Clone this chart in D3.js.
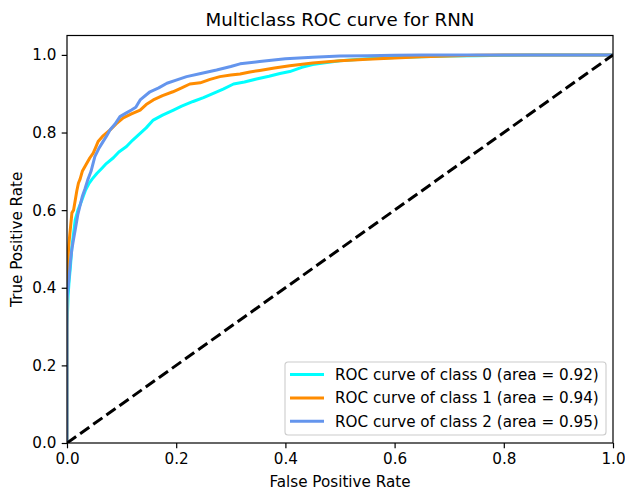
<!DOCTYPE html>
<html>
<head>
<meta charset="utf-8">
<script src="https://cdn.jsdelivr.net/npm/d3@7"></script>
<style>
  html, body { margin: 0; padding: 0; background: #fff; }
  svg { display: block; font-family: "DejaVu Sans", sans-serif; }
</style>
</head>
<body>
<svg id="chart" width="625" height="494"></svg>
<script>
// ROC curves (false positive rate vs. true positive rate) for each class
const class0Fpr = [0, 0, 0.002, 0.004, 0.006, 0.009, 0.012, 0.015, 0.02, 0.027, 0.034, 0.04, 0.046, 0.055, 0.064, 0.072, 0.085, 0.095, 0.109, 0.12, 0.134, 0.145, 0.158, 0.175, 0.195, 0.21, 0.231, 0.25, 0.268, 0.286, 0.305, 0.325, 0.347, 0.37, 0.39, 0.408, 0.43, 0.45, 0.469, 0.5, 0.55, 0.6, 0.65, 0.7, 0.75, 0.8, 0.85, 0.9, 1.0];
const class0Tpr = [0, 0.3, 0.38, 0.42, 0.45, 0.506, 0.54, 0.575, 0.6, 0.625, 0.652, 0.668, 0.68, 0.695, 0.708, 0.72, 0.735, 0.75, 0.764, 0.78, 0.798, 0.812, 0.832, 0.845, 0.858, 0.868, 0.88, 0.89, 0.901, 0.912, 0.925, 0.93, 0.938, 0.945, 0.952, 0.957, 0.968, 0.975, 0.979, 0.985, 0.99, 0.993, 0.995, 0.997, 0.998, 0.999, 1.0, 1.0, 1.0];

const class1Fpr = [0, 0, 0.001, 0.003, 0.006, 0.009, 0.012, 0.015, 0.018, 0.021, 0.024, 0.028, 0.036, 0.042, 0.048, 0.052, 0.057, 0.065, 0.079, 0.09, 0.103, 0.118, 0.134, 0.145, 0.158, 0.175, 0.194, 0.21, 0.225, 0.244, 0.262, 0.28, 0.3, 0.317, 0.335, 0.353, 0.38, 0.408, 0.45, 0.5, 0.55, 0.6, 0.65, 0.7, 0.75, 0.8, 0.85, 1.0];
const class1Tpr = [0, 0.4, 0.45, 0.506, 0.55, 0.593, 0.6, 0.625, 0.65, 0.67, 0.68, 0.7, 0.72, 0.735, 0.747, 0.76, 0.777, 0.79, 0.807, 0.822, 0.838, 0.848, 0.858, 0.872, 0.884, 0.895, 0.905, 0.915, 0.925, 0.928, 0.937, 0.944, 0.948, 0.951, 0.956, 0.96, 0.966, 0.972, 0.979, 0.985, 0.989, 0.992, 0.995, 0.997, 0.999, 1.0, 1.0, 1.0];

const class2Fpr = [0, 0, 0.002, 0.004, 0.006, 0.009, 0.012, 0.015, 0.02, 0.028, 0.033, 0.038, 0.044, 0.051, 0.058, 0.064, 0.072, 0.079, 0.088, 0.097, 0.108, 0.118, 0.126, 0.134, 0.152, 0.168, 0.183, 0.2, 0.219, 0.245, 0.274, 0.3, 0.317, 0.353, 0.4, 0.45, 0.5, 0.55, 0.6, 0.65, 0.7, 1.0];
const class2Tpr = [0, 0.37, 0.4, 0.43, 0.464, 0.5, 0.525, 0.549, 0.59, 0.635, 0.655, 0.678, 0.7, 0.738, 0.758, 0.772, 0.79, 0.807, 0.822, 0.841, 0.85, 0.858, 0.865, 0.884, 0.905, 0.915, 0.927, 0.935, 0.944, 0.952, 0.961, 0.97, 0.977, 0.983, 0.99, 0.994, 0.997, 0.998, 0.999, 1.0, 1.0, 1.0];

const classNames = ["0", "1", "2"];
const classAuc = [0.92, 0.94, 0.95];
const classColors = ["aqua", "darkorange", "cornflowerblue"];

const xTicks = [0.0, 0.2, 0.4, 0.6, 0.8, 1.0];
const yTicks = [0.0, 0.2, 0.4, 0.6, 0.8, 1.0];

const series = [
  { fpr: class0Fpr, tpr: class0Tpr },
  { fpr: class1Fpr, tpr: class1Tpr },
  { fpr: class2Fpr, tpr: class2Tpr }
];

const W = 625, H = 494;
const margin = { top: 35.5, right: 12, bottom: 51, left: 67 };
const iw = W - margin.left - margin.right;
const ih = H - margin.top - margin.bottom;

const FS = 15.2;      // base font size (tick labels, axis labels, legend)
const LW = 3;         // curve line width

const svg = d3.select("#chart");
const g = svg.append("g").attr("transform", `translate(${margin.left},${margin.top})`);

const x = d3.scaleLinear().domain([0, 1]).range([0, iw]);
const y = d3.scaleLinear().domain([0, 1.05]).range([ih, 0]);

svg.append("defs").append("clipPath").attr("id", "plotClip")
  .append("rect").attr("x", 0).attr("y", 0).attr("width", iw).attr("height", ih);

const plot = g.append("g").attr("clip-path", "url(#plotClip)");

const line = d3.line().x(d => x(d[0])).y(d => y(d[1]));

series.forEach((s, i) => {
  const pts = s.fpr.map((f, k) => [f, s.tpr[k]]);
  plot.append("path")
    .datum(pts)
    .attr("d", line)
    .attr("fill", "none")
    .attr("stroke", classColors[i])
    .attr("stroke-width", LW)
    .attr("stroke-linejoin", "round")
    .attr("stroke-linecap", "butt");
});

// chance diagonal
plot.append("path")
  .datum([[0, 0], [1, 1]])
  .attr("d", line)
  .attr("fill", "none")
  .attr("stroke", "#000")
  .attr("stroke-width", LW)
  .attr("stroke-dasharray", "11.2,4.9");

// axes
const fmt = d3.format(".1f");
const xAxis = g.append("g").attr("transform", `translate(0,${ih})`)
  .call(d3.axisBottom(x).tickValues(xTicks).tickFormat(fmt).tickSize(5.3).tickPadding(5.3));
const yAxis = g.append("g")
  .call(d3.axisLeft(y).tickValues(yTicks).tickFormat(fmt).tickSize(5.3).tickPadding(5.3));

[xAxis, yAxis].forEach(a => {
  a.select(".domain").remove();
  a.selectAll(".tick line").attr("stroke", "#000").attr("stroke-width", 1.2);
  a.selectAll(".tick text").attr("fill", "#000").style("font-size", FS + "px")
    .style("font-family", "DejaVu Sans, sans-serif");
});

// frame
g.append("rect")
  .attr("x", 0).attr("y", 0).attr("width", iw).attr("height", ih)
  .attr("fill", "none").attr("stroke", "#000").attr("stroke-width", 1.2);

// title and axis labels
svg.append("text")
  .attr("x", margin.left + iw / 2).attr("y", 26)
  .attr("text-anchor", "middle")
  .style("font-size", (FS * 1.2) + "px")
  .text("Multiclass ROC curve for RNN");

svg.append("text")
  .attr("x", margin.left + iw / 2).attr("y", 487)
  .attr("text-anchor", "middle")
  .style("font-size", FS + "px")
  .text("False Positive Rate");

svg.append("text")
  .attr("transform", `translate(22,${margin.top + ih / 2}) rotate(-90)`)
  .attr("text-anchor", "middle")
  .style("font-size", FS + "px")
  .text("True Positive Rate");

// legend
const legend = g.append("g").attr("transform", `translate(${285 - margin.left},${362 - margin.top})`);
legend.append("rect")
  .attr("x", 0).attr("y", 0).attr("width", 321).attr("height", 73)
  .attr("rx", 3).attr("ry", 3)
  .attr("fill", "#fff").attr("fill-opacity", 0.8)
  .attr("stroke", "#cccccc").attr("stroke-width", 1.1);

classNames.forEach((c, i) => {
  const cy = 12.5 + i * 23.4;
  legend.append("line")
    .attr("x1", 5).attr("x2", 39).attr("y1", cy).attr("y2", cy)
    .attr("stroke", classColors[i]).attr("stroke-width", LW);
  legend.append("text")
    .attr("x", 50).attr("y", cy).attr("dy", "0.36em")
    .style("font-size", FS + "px")
    .text(`ROC curve of class ${c} (area = ${classAuc[i].toFixed(2)})`);
});
</script>
</body>
</html>
